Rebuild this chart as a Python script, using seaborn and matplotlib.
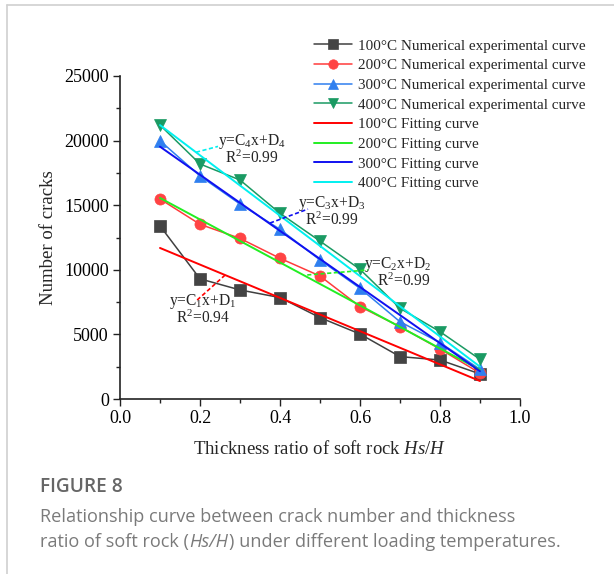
import numpy as np
import pandas as pd
import matplotlib
matplotlib.use("Agg")
import matplotlib.pyplot as plt
from matplotlib.ticker import MultipleLocator
import seaborn as sns

# ---------------- data ----------------
ratio = [0.1, 0.2, 0.3, 0.4, 0.5, 0.6, 0.7, 0.8, 0.9]
exp_100 = [13400, 9300, 8440, 7850, 6300, 5030, 3280, 3020, 1940]
exp_200 = [15480, 13520, 12430, 10890, 9520, 7150, 5600, 3870, 2000]
exp_300 = [19990, 17260, 15090, 13130, 10760, 8570, 5980, 4360, 2300]
exp_400 = [21200, 18190, 16950, 14370, 12220, 10040, 7020, 5210, 3070]

fit_x = [0.1, 0.9]
fit_100 = [11690, 1390]
fit_200 = [15560, 2250]
fit_300 = [19530, 2150]
fit_400 = [21200, 2500]

temps = ["100°C", "200°C", "300°C", "400°C"]
r2_vals = ["0.94", "0.99", "0.99", "0.99"]

# ---------------- style ----------------
sns.set_theme(style="ticks")
plt.rcParams["font.family"] = ["Liberation Serif", "DejaVu Serif"]
plt.rcParams["mathtext.fontset"] = "custom"
plt.rcParams["mathtext.rm"] = "Liberation Serif"
plt.rcParams["mathtext.it"] = "Liberation Serif:italic"

fig = plt.figure(figsize=(6.14, 5.74), dpi=100)
ax = fig.add_axes([120 / 614, 1 - 399 / 574, 400 / 614, 323 / 574])

exp_colors = ["#404040", "#ff3b3b", "#2f7fef", "#1a9a63"]
exp_marker_colors = ["#444444", "#ff4444", "#2f7fef", "#1a9a63"]
markers = ["s", "o", "^", "v"]
fit_colors = ["#ff0000", "#22ee22", "#1010f0", "#00f0f0"]

exps = [exp_100, exp_200, exp_300, exp_400]
fits = [fit_100, fit_200, fit_300, fit_400]

for t, vals, c, mc, m in zip(temps, exps, exp_colors, exp_marker_colors, markers):
    df = pd.DataFrame({"x": ratio, "y": vals})
    sns.lineplot(data=df, x="x", y="y", ax=ax, color=c, lw=1.1, marker=m,
                 markersize=8, markerfacecolor=mc, markeredgecolor=mc,
                 markeredgewidth=0.5, label=f"{t} Numerical experimental curve",
                 legend=False, zorder=3)
for t, vals, c in zip(temps, fits, fit_colors):
    df = pd.DataFrame({"x": fit_x, "y": vals})
    sns.lineplot(data=df, x="x", y="y", ax=ax, color=c, lw=1.4,
                 label=f"{t} Fitting curve", legend=False, zorder=4)

ax.set_xlim(0, 1.0)
ax.set_ylim(0, 25000)
ax.xaxis.set_major_locator(MultipleLocator(0.2))
ax.xaxis.set_minor_locator(MultipleLocator(0.1))
ax.yaxis.set_major_locator(MultipleLocator(5000))
ax.yaxis.set_minor_locator(MultipleLocator(2500))
ax.set_xticks(np.arange(0, 1.01, 0.2))
ax.set_xticklabels([f"{v:.1f}" for v in np.arange(0, 1.01, 0.2)])
ax.tick_params(axis="both", which="major", length=5, width=1.0, labelsize=13,
               direction="out", colors="#222222", labelcolor="black", pad=3)
ax.tick_params(axis="both", which="minor", length=3, width=1.0, direction="out",
               colors="#222222")
sns.despine(ax=ax)
for s in ["left", "bottom"]:
    ax.spines[s].set_linewidth(1.2)
    ax.spines[s].set_color("#222222")

ax.set_xlabel("Thickness ratio of soft rock $\\it{Hs/H}$", fontsize=13.5, labelpad=9)
ax.set_ylabel("Number of cracks", fontsize=13.5, labelpad=5)

leg = ax.legend(loc="upper left", bbox_to_anchor=(308 / 614, 1 - 33 / 574),
                bbox_transform=fig.transFigure, frameon=False, fontsize=10.9,
                handlelength=2.5, handletextpad=0.4, labelspacing=0.4,
                borderaxespad=0, markerscale=0.85)

# ---------------- annotations ----------------
ann = [
    # (text xy, line start (on fit), line end, color)
    ((0.207, 7430), (0.193, 7660), (0.263, 9600), fit_colors[0], 1),
    ((0.695, 10290), (0.468, 9600), (0.62, 9985), fit_colors[1], 2),
    ((0.53, 15000), (0.375, 13620), (0.47, 14700), fit_colors[2], 3),
    ((0.33, 19800), (0.19, 19100), (0.245, 19550), fit_colors[3], 4),
]
for (tx, ty), p0, p1, c, k in ann:
    ax.plot([p0[0], p1[0]], [p0[1], p1[1]], ls=(0, (2.5, 1.5)), color=c, lw=1.2, zorder=5)
    ax.text(tx, ty + 120, f"y=C$_{k}$x+D$_{k}$", ha="center", va="center", fontsize=11.2, zorder=6)
    dx = 0.015 if k == 2 else 0.0
    ax.text(tx + dx, ty - 1200, f"R$^2$={r2_vals[k - 1]}", ha="center", va="center",
            fontsize=11.2, zorder=6)

# ---------------- card frame & caption ----------------
fig.add_artist(plt.Line2D([7 / 614, 7 / 614], [0, 1 - 5 / 574], color="#d0d0d0",
                          lw=1.2, transform=fig.transFigure))
fig.add_artist(plt.Line2D([7 / 614, 1], [1 - 5 / 574, 1 - 5 / 574], color="#d0d0d0",
                          lw=1.2, transform=fig.transFigure))

cap_font = ["Open Sans", "DejaVu Sans"]
cap_color = "#7a7a7a"
cap_size = 13.1
fig.text(40 / 614, 1 - 487 / 574, "FIGURE 8", fontsize=13.8, color="#666666",
         family=cap_font, fontweight="semibold", va="center", ha="left")
fig.text(40 / 614, 1 - 517 / 574, "Relationship curve between crack number and thickness",
         fontsize=cap_size, color=cap_color, family=cap_font, va="center", ha="left")

# second caption line with italic Hs/H, pieces placed one after another
renderer = fig.canvas.get_renderer()
pieces = [("ratio of soft rock (", "normal"), ("Hs/H", "italic"),
          (") under different loading temperatures.", "normal")]
x_px = 40
y_fig = 1 - 542 / 574
for txt, style in pieces:
    t = fig.text(x_px / 614, y_fig, txt, fontsize=cap_size, color=cap_color,
                 family=cap_font, style=style, va="center", ha="left")
    bb = t.get_window_extent(renderer=renderer)
    x_px += bb.width + (1 if style == "italic" else 0)

fig.savefig("out.png", dpi=100)
